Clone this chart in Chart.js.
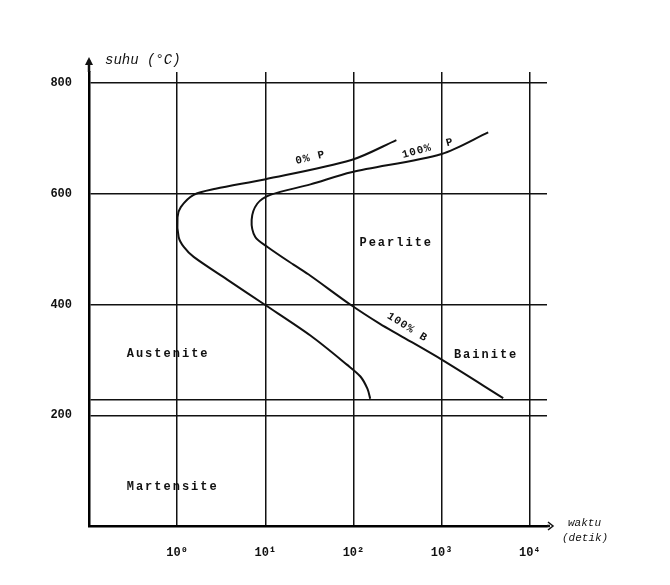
<!DOCTYPE html>
<html>
<head>
<meta charset="utf-8">
<script src="https://cdn.jsdelivr.net/npm/chart.js@4.4.1/dist/chart.umd.min.js"></script>
<style>
  html, body { margin: 0; padding: 0; background: #fff; }
  #wrap { width: 670px; height: 585px; }
</style>
</head>
<body>
<div id="wrap"><canvas id="ttt"></canvas></div>
<script>
// time (s) and temperature (C) of the two C-curves
const startTime = [155, 144, 120, 85, 32.5, 9.8, 3.7, 1.54, 1.19, 1.04, 1.01, 1.1, 1.54, 2.73, 9.8, 94.6, 307];
const startTemp = [230, 248, 270, 291, 344, 400, 445, 486, 504, 522, 558, 576, 598, 609, 626, 661, 697];
const finishTime = [5000, 1014, 339, 200, 92, 32.5, 20.9, 10.6, 7.7, 7.0, 8.1, 11.4, 32.5, 94.6, 1000, 3380];
const finishTemp = [231, 300, 344, 365, 400, 452, 472, 504, 522, 553, 582, 598, 617, 639, 672, 711];

// axis ticks (228 = Ms line)
const yTicks = [0, 200, 228, 400, 600, 800];
const xTicks = [1, 10, 100, 1000, 10000];
const xTickLabels = ['10\u2070', '10\u00b9', '10\u00b2', '10\u00b3', '10\u2074'];

// text in the diagram
const regionNames = ['Austenite', 'Pearlite', 'Bainite', 'Martensite'];
const regionTime = [0.79, 306, 3200, 0.89];
const regionTemp = [311, 512, 309, 70];
const curveNames = ['0% P', '100%  P', '100% B'];
const curveTime = [32.5, 700, 408];
const curveTemp = [665, 682, 359];
const curveAngle = [-13, -15, 32];

const ink = '#111';
const mono = '"Liberation Mono", "DejaVu Sans Mono", monospace';

const toPts = (xs, ys) => xs.map((x, i) => ({ x: x, y: ys[i] }));

const decor = {
  id: 'decor',
  beforeDraw(chart) {
    const c = chart.ctx;
    c.save();
    c.fillStyle = '#fff';
    c.fillRect(0, 0, chart.width, chart.height);
    c.restore();
  },
  afterDraw(chart) {
    const c = chart.ctx;
    const a = chart.chartArea;
    const xs = chart.scales.x, ys = chart.scales.y;
    c.save();
    c.strokeStyle = ink;
    c.fillStyle = ink;
    c.lineWidth = 2.5;
    // y axis arrow
    c.beginPath();
    c.moveTo(a.left, a.top);
    c.lineTo(a.left, a.top - 12);
    c.stroke();
    c.beginPath();
    c.moveTo(a.left, a.top - 15);
    c.lineTo(a.left - 4, a.top - 7);
    c.lineTo(a.left + 4, a.top - 7);
    c.closePath();
    c.fill();
    // x axis arrow
    c.beginPath();
    c.moveTo(a.right, a.bottom);
    c.lineTo(a.right + 3, a.bottom);
    c.stroke();
    c.lineWidth = 1.5;
    c.beginPath();
    c.moveTo(a.right + 1, a.bottom - 4);
    c.lineTo(a.right + 6, a.bottom);
    c.lineTo(a.right + 1, a.bottom + 4);
    c.stroke();

    // axis titles
    c.font = 'italic 14px ' + mono;
    c.textBaseline = 'middle';
    c.textAlign = 'left';
    c.fillText('suhu (\u00b0C)', a.left + 16, a.top - 12);
    c.font = 'italic 11px ' + mono;
    c.fillText('waktu', a.right + 21, a.bottom - 3);
    c.fillText('(detik)', a.right + 15, a.bottom + 12);

    // region names
    c.font = 'bold 12px ' + mono;
    c.letterSpacing = '2px';
    c.textAlign = 'center';
    regionNames.forEach((n, i) => {
      c.fillText(n, xs.getPixelForValue(regionTime[i]), ys.getPixelForValue(regionTemp[i]));
    });

    // curve names
    c.font = 'bold 11px ' + mono;
    c.letterSpacing = '1px';
    curveNames.forEach((n, i) => {
      c.save();
      c.translate(xs.getPixelForValue(curveTime[i]), ys.getPixelForValue(curveTemp[i]));
      c.rotate(curveAngle[i] * Math.PI / 180);
      c.fillText(n, 0, 0);
      c.restore();
    });
    c.restore();
  }
};

new Chart(document.getElementById('ttt'), {
  type: 'line',
  data: {
    datasets: [
      { label: 'start', data: toPts(startTime, startTemp) },
      { label: 'finish', data: toPts(finishTime, finishTemp) }
    ]
  },
  options: {
    responsive: true,
    maintainAspectRatio: false,
    animation: false,
    layout: { padding: { top: 72, right: 123, bottom: 0, left: 0 } },
    elements: {
      line: { borderColor: ink, borderWidth: 2, tension: 0.3, fill: false },
      point: { radius: 0 }
    },
    plugins: { legend: { display: false }, tooltip: { enabled: false } },
    scales: {
      x: {
        type: 'logarithmic',
        min: 0.1,
        max: 15700,
        afterBuildTicks: s => { s.ticks = xTicks.map(v => ({ value: v })); },
        afterFit: s => { s.height = 59; },
        grid: { color: ink, lineWidth: 1.5, drawTicks: false },
        border: { display: true, color: '#000', width: 2.5 },
        ticks: {
          autoSkip: false,
          maxRotation: 0,
          padding: 20,
          color: ink,
          font: { family: mono, size: 12, weight: 'bold' },
          callback: v => { const k = xTicks.indexOf(v); return k < 0 ? '' : xTickLabels[k]; }
        }
      },
      y: {
        type: 'linear',
        min: 0,
        max: 820,
        afterBuildTicks: s => { s.ticks = yTicks.map(v => ({ value: v })); },
        afterFit: s => { s.width = 89; },
        grid: { color: ink, lineWidth: 1.5, drawTicks: false },
        border: { display: true, color: '#000', width: 2.5 },
        ticks: {
          padding: 17,
          color: ink,
          font: { family: mono, size: 12, weight: 'bold' },
          callback: v => (v > 0 && v % 200 === 0) ? String(v) : ''
        }
      }
    }
  },
  plugins: [decor]
});
</script>
</body>
</html>
